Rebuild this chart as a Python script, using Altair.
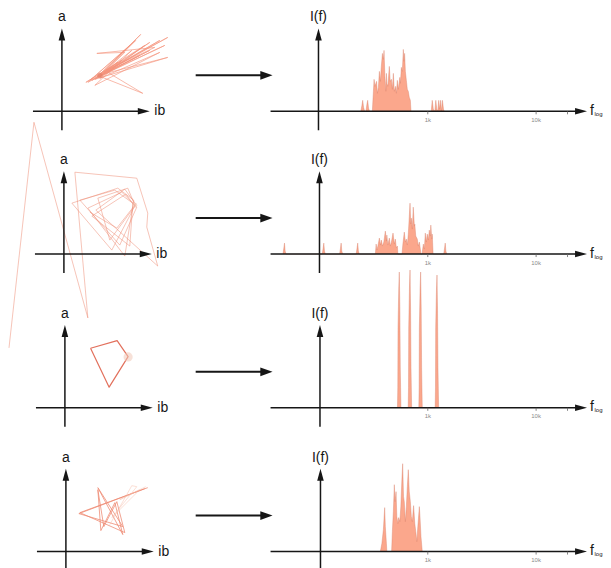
import altair as alt
import pandas as pd

# ---------------- data ----------------
# phase-space trajectories (ib, a) in arbitrary units, origin at the axes crossing
traj1_ib = [38, 79, 34, 98, 42, 106, 36, 68, 28, 88, 40, 106, 33, 78, 26, 74, 44, 93, 35, 63,
            38, 81, 46, 60, 24, 83, 38, 98, 33, 70, 41, 88, 37, 56, 30, 103, 39]
traj1_a = [36, 77, 33, 71, 39, 74, 35, 66, 31, 61, 37, 54, 32, 56, 29, 71, 41, 64, 58, 59,
           35, 18, 39, 51, 29, 66, 33, 59, 26, 61, 38, 69, 34, 49, 31, 66, 36]

traj2_ib = [-55, -30, 24, 11, 73, 84, 83, 94, 32, 61, 72, 48, 8, 54, 70, 61, 24, 58, 73, 56,
            16, 51, 69, 66, 28, 62, 71, 46, 34, 64, 71, 53, 26]
traj2_a = [-94, 132, -64, 82, 76, 41, 27, -12, 44, 65, 50, 4, 51, 66, 54, -2, 46, 62, 47, 9,
           54, 64, 51, 8, 38, 60, 48, 14, 56, 66, 49, 26, 42]

traj3_ib = [25.7, 52.3, 63.3, 44.3, 25.7]
traj3_a = [59.7, 67.3, 51.3, 20.7, 59.7]

traj4_ib = [79, 13, 57, 32, 57, 49, 35, 32, 38, 51, 59, 14, 82]
traj4_a = [63, 38, 25, 64, 17, 49, 21, 62, 25, 50, 19, 39, 64]
traj4b_ib = [44, 66, 71, 46, 74, 54, 80]
traj4b_a = [27, 66, 65, 34, 62, 52, 65]

circle_ib = [38, 71, 63.3, None]
circle_a = [36, 49, 51, None]

# spectra: log10(frequency) and intensity (arbitrary units)
spec1_f = [2.382, 2.392, 2.399, 2.407, 2.417, 2.429, 2.438, 2.445, 2.453, 2.463,
           2.488, 2.498, 2.504, 2.512, 2.521, 2.527, 2.535, 2.544, 2.553, 2.562,
           2.571, 2.581, 2.590, 2.596, 2.604, 2.613, 2.618, 2.622, 2.631, 2.645,
           2.653, 2.664, 2.673, 2.682, 2.691, 2.703, 2.710, 2.719, 2.728, 2.742,
           2.747, 2.756, 2.765, 2.774, 2.781, 2.786, 2.793, 2.802, 2.811, 2.820,
           2.829, 2.839, 2.845,
           3.032, 3.041, 3.051, 3.065, 3.074, 3.083, 3.092, 3.101, 3.109, 3.118,
           3.126, 3.135, 3.145, 3.152]
spec1_I = [0, 6, 11, 4, 0, 0, 7, 11, 3, 0,
           0, 20, 32, 25, 28, 30, 18, 24, 40, 30,
           45, 58, 52, 61, 35, 20, 38, 28, 25, 45,
           30, 32, 22, 38, 20, 25, 18, 31, 22, 34,
           28, 44, 40, 62, 50, 58, 40, 31, 22, 20,
           14, 11, 0,
           0, 11, 2, 0, 11, 2, 0, 11, 2, 11,
           0, 11, 2, 0]

spec2_f = [1.663, 1.671, 1.677, 1.683, 1.691,
           2.026, 2.034, 2.040, 2.046, 2.054,
           2.186, 2.194, 2.200, 2.206, 2.214,
           2.339, 2.347, 2.353, 2.359, 2.367,
           2.516, 2.523, 2.530, 2.539, 2.553, 2.562, 2.571, 2.581, 2.594, 2.608,
           2.618, 2.622, 2.631, 2.645, 2.654, 2.664, 2.679, 2.691, 2.700, 2.710,
           2.719, 2.724,
           2.762, 2.770, 2.783, 2.793, 2.802, 2.811, 2.820, 2.836, 2.843, 2.848,
           2.857, 2.866, 2.876, 2.880, 2.889, 2.903, 2.912, 2.922, 2.931, 2.937,
           2.947, 2.954, 2.959, 2.968, 2.977, 2.986, 2.995, 3.005, 3.014, 3.023,
           3.028, 3.037, 3.041, 3.049,
           3.147, 3.155, 3.161, 3.167, 3.175]
spec2_I = [0, 6, 11, 3, 0,
           0, 6, 11, 3, 0,
           0, 6, 11, 3, 0,
           0, 6, 11, 3, 0,
           0, 10, 4, 8, 16, 9, 14, 8, 12, 23,
           13, 19, 9, 16, 8, 12, 21, 10, 15, 6,
           8, 0,
           0, 10, 22, 12, 15, 9, 20, 51, 30, 36,
           25, 47, 28, 30, 18, 15, 8, 12, 5, 0,
           0, 6, 10, 5, 21, 12, 20, 14, 24, 18,
           29, 15, 20, 0,
           0, 6, 11, 3, 0]

spec3_f = [2.720, 2.723, 2.725, 2.732, 2.737, 2.742, 2.746, 2.752,
           2.819, 2.822, 2.824, 2.831, 2.836, 2.841, 2.845, 2.851,
           2.917, 2.920, 2.922, 2.929, 2.934, 2.939, 2.943, 2.949,
           3.068, 3.071, 3.073, 3.080, 3.085, 3.090, 3.094, 3.100]
spec3_I = [0, 20, 80, 120, 136, 100, 40, 0,
           0, 20, 80, 122, 138, 100, 40, 0,
           0, 20, 80, 120, 136, 100, 40, 0,
           0, 20, 80, 118, 133, 98, 40, 0]

spec4_f = [2.562, 2.576, 2.590, 2.602, 2.608, 2.618, 2.622,
           2.666, 2.673, 2.682, 2.691, 2.698, 2.707, 2.714, 2.724, 2.731, 2.742,
           2.751, 2.760, 2.768, 2.776, 2.783, 2.793, 2.802, 2.811, 2.820, 2.829,
           2.839, 2.848, 2.857, 2.869, 2.880, 2.889, 2.899, 2.908, 2.922, 2.928,
           2.937, 2.949]
spec4_I = [0, 8, 22, 44, 25, 8, 0,
           0, 20, 40, 67, 50, 60, 35, 28, 34, 30,
           45, 70, 88, 55, 50, 30, 45, 65, 82, 60,
           50, 35, 30, 46, 28, 20, 10, 25, 45, 35,
           15, 0]

tick_f = [3, 4, 4.29]
tick_labels = ["1k", "10k", ""]

# ---------------- layout ----------------
ROW_TOP = [8, 151, 305, 449]
ROW_H = [143, 154, 144, 119]
AXIS_Y = [111, 254, 408, 552]
PHASE_X0 = [62, 64, 65, 66]
IF_AXIS_PX = [319, 320, 320.5, 321]
PAGE_X0 = 8
LEFT_W, RIGHT_W = 254, 341
FONT = "Liberation Sans"
INK = "#161616"


def to_logf(px):
    return 3 + (px - 428.5) / 108.5


RIGHT_ARROW = "M0,0L-2,-0.55L-2,0.55Z"
UP_ARROW = "M0,0L-0.55,2L0.55,2Z"
BIG_ARROW = "M0,0L-2,-0.7L-2,0.7Z"


def sc(dom):
    return alt.Scale(domain=dom, nice=False, zero=False)


def make_encoders(xd, yd):
    def X(f):
        return alt.X(f, type="quantitative", scale=sc(xd), axis=None)

    def Y(f):
        return alt.Y(f, type="quantitative", scale=sc(yd), axis=None)
    return X, Y


def text_layer(X, Y, xs, ys, ts, size, color=INK, align="center"):
    df = pd.DataFrame({"x": xs, "y": ys, "t": ts})
    return alt.Chart(df).mark_text(fontSize=size, font=FONT, color=color, align=align,
                                   baseline="middle").encode(x=X("x"), y=Y("y"), text="t:N")


def arrowhead(X, Y, x, y, shape, size=144):
    df = pd.DataFrame({"x": [x], "y": [y]})
    return alt.Chart(df).mark_point(shape=shape, filled=True, size=size, color=INK,
                                    opacity=1, strokeWidth=0).encode(x=X("x"), y=Y("y"))


def hrule(X, Y, x1, x2, y, color=INK, w=1.5):
    df = pd.DataFrame({"x": [x1], "x2": [x2], "y": [y]})
    return alt.Chart(df).mark_rule(color=color, strokeWidth=w).encode(
        x=X("x"), x2=alt.X2("x2"), y=Y("y"))


def vrule(X, Y, x, y1, y2, color=INK, w=1.5):
    df = pd.DataFrame({"x": [x], "y": [y1], "y2": [y2]})
    return alt.Chart(df).mark_rule(color=color, strokeWidth=w).encode(
        x=X("x"), y=Y("y"), y2=alt.Y2("y2"))


def left_panel(r, trajs, circ_size, circ_color):
    x0, y0, top, h = PHASE_X0[r], AXIS_Y[r], ROW_TOP[r], ROW_H[r]
    xd = [PAGE_X0 - x0, PAGE_X0 + LEFT_W - x0]
    yd = [y0 - (top + h), y0 - top]
    X, Y = make_encoders(xd, yd)
    layers = []
    for ib, a, color, w, op in trajs:
        df = pd.DataFrame({"ib": ib, "a": a, "i": list(range(len(ib)))})
        layers.append(alt.Chart(df).mark_line(color=color, strokeWidth=w, opacity=op,
                                              strokeJoin="round").encode(
            x=X("ib"), y=Y("a"), order="i:Q"))
    if circle_ib[r] is not None:
        cdf = pd.DataFrame({"ib": [circle_ib[r]], "a": [circle_a[r]]})
        layers.append(alt.Chart(cdf).mark_point(filled=True, size=circ_size, color=circ_color,
                                                opacity=0.55).encode(x=X("ib"), y=Y("a")))
    # axes
    layers.append(hrule(X, Y, -29, 82, 0))
    layers.append(vrule(X, Y, 0, -19, 78))
    layers.append(arrowhead(X, Y, 88, 0, RIGHT_ARROW))
    layers.append(arrowhead(X, Y, 0, 83, UP_ARROW))
    layers.append(text_layer(X, Y, [0, 98], [94, 0], ["a", "ib"], 14))
    # transition arrow
    tail, tip = 196 - x0, 273 - x0
    layers.append(hrule(X, Y, tail, tip - 8, 36, w=2))
    layers.append(arrowhead(X, Y, tip, 36, BIG_ARROW, size=150))
    return alt.layer(*layers).properties(width=LEFT_W, height=h)


def right_panel(r, f, I):
    y0, top, h = AXIS_Y[r], ROW_TOP[r], ROW_H[r]
    xd = [to_logf(PAGE_X0 + LEFT_W), to_logf(PAGE_X0 + LEFT_W + RIGHT_W)]
    yd = [y0 - (top + h), y0 - top]
    X, Y = make_encoders(xd, yd)
    df = pd.DataFrame({"f": f, "I": I, "z": [0] * len(f)})
    layers = [
        alt.Chart(df).mark_area(color="#FBA78C", opacity=1).encode(
            x=X("f"), y=Y("I"), y2=alt.Y2("z")),
        alt.Chart(df).mark_line(color="#D9806A", strokeWidth=0.5, opacity=0.8).encode(
            x=X("f"), y=Y("I")),
    ]
    yax = to_logf(IF_AXIS_PX[r])
    layers.append(hrule(X, Y, to_logf(271), to_logf(582), 0))
    layers.append(vrule(X, Y, yax, -19, 78))
    layers.append(arrowhead(X, Y, to_logf(588), 0, RIGHT_ARROW))
    layers.append(arrowhead(X, Y, yax, 83, UP_ARROW))
    tdf = pd.DataFrame({"x": tick_f, "y": [0] * 3, "y2": [-3] * 3})
    layers.append(alt.Chart(tdf).mark_rule(color="#666", strokeWidth=0.8).encode(
        x=X("x"), y=Y("y"), y2=alt.Y2("y2")))
    layers.append(text_layer(X, Y, tick_f[:2], [-8.5, -8.5], tick_labels[:2], 6, color="#8a8a8a"))
    layers.append(text_layer(X, Y, [yax], [94], ["I(f)"], 14))
    layers.append(text_layer(X, Y, [to_logf(593)], [0.5], ["f"], 14))
    layers.append(text_layer(X, Y, [to_logf(595.5)], [-2.5], ["log"], 6, align="left"))
    return alt.layer(*layers).properties(width=RIGHT_W, height=h)


panels = [
    left_panel(0, [(traj1_ib, traj1_a, "#F4937A", 0.8, 0.8)], 30, "#E07A62"),
    right_panel(0, spec1_f, spec1_I),
    left_panel(1, [(traj2_ib, traj2_a, "#EE8A72", 0.6, 0.85)], 25, "#F2C2AE"),
    right_panel(1, spec2_f, spec2_I),
    left_panel(2, [(traj3_ib, traj3_a, "#E2705C", 1.2, 1.0)], 85, "#F1C9B8"),
    right_panel(2, spec3_f, spec3_I),
    left_panel(3, [(traj4_ib, traj4_a, "#EE8870", 0.9, 0.85),
                   (traj4b_ib, traj4b_a, "#F6B49E", 0.7, 0.6)], 20, "#FFFFFF"),
    right_panel(3, spec4_f, spec4_I),
]

chart = alt.concat(*panels, columns=2, spacing=0, bounds="flush", align="each").properties(
    padding=0, background="white").configure_view(stroke=None)

chart.save("out.html", embed_options={"renderer": "svg", "actions": False})
